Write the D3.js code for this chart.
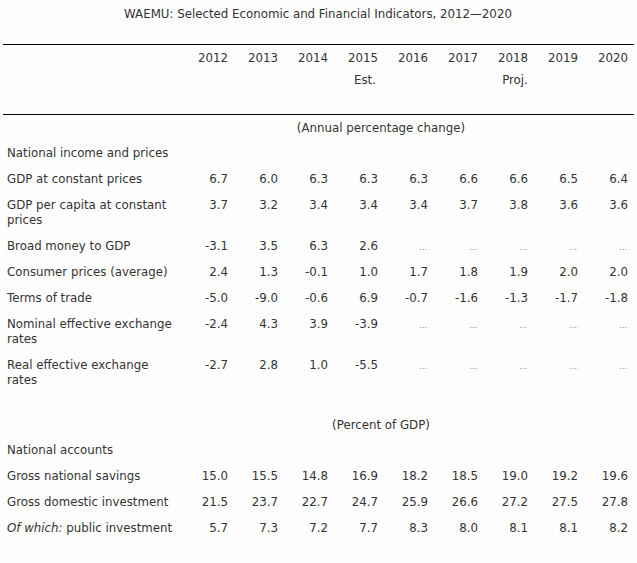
<!DOCTYPE html>
<html><head><meta charset="utf-8">
<script src="https://cdn.jsdelivr.net/npm/d3@7"></script>
<style>html,body{margin:0;padding:0;background:#fefefe;}</style>
</head><body>
<script>
const title = "WAEMU: Selected Economic and Financial Indicators, 2012\u20142020";
const years = ["2012","2013","2014","2015","2016","2017","2018","2019","2020"];
const yearNotes = {"2015":"Est.","2018":"Proj."};
const section1Unit = "(Annual percentage change)";
const section1Title = "National income and prices";
const section1Labels = [
  ["GDP at constant prices"],
  ["GDP per capita at constant","prices"],
  ["Broad money to GDP"],
  ["Consumer prices (average)"],
  ["Terms of trade"],
  ["Nominal effective exchange","rates"],
  ["Real effective exchange","rates"]
];
const gdpConstant   = [6.7,6.0,6.3,6.3,6.3,6.6,6.6,6.5,6.4];
const gdpPerCapita  = [3.7,3.2,3.4,3.4,3.4,3.7,3.8,3.6,3.6];
const broadMoney    = [-3.1,3.5,6.3,2.6,null,null,null,null,null];
const consumerPrices= [2.4,1.3,-0.1,1.0,1.7,1.8,1.9,2.0,2.0];
const termsOfTrade  = [-5.0,-9.0,-0.6,6.9,-0.7,-1.6,-1.3,-1.7,-1.8];
const neer          = [-2.4,4.3,3.9,-3.9,null,null,null,null,null];
const reer          = [-2.7,2.8,1.0,-5.5,null,null,null,null,null];
const section2Unit = "(Percent of GDP)";
const section2Title = "National accounts";
const section2Labels = [
  ["Gross national savings"],
  ["Gross domestic investment"],
  ["public investment"]
];
const grossSavings   = [15.0,15.5,14.8,16.9,18.2,18.5,19.0,19.2,19.6];
const grossInvest    = [21.5,23.7,22.7,24.7,25.9,26.6,27.2,27.5,27.8];
const publicInvest   = [5.7,7.3,7.2,7.7,8.3,8.0,8.1,8.1,8.2];

const W = 637, H = 563;
const color = "#333";
const font = "'DejaVu Sans', Verdana, sans-serif";
const fs = 11.8;

const svg = d3.select("body").append("svg").attr("width",W).attr("height",H)
  .style("background","#fefefe")
  .attr("font-family",font).attr("font-size",fs).attr("fill",color);

const x = d3.scaleBand().domain(years).range([178,628]).padding(0);
const bw = x.bandwidth();
const colRight = d => x(d) + bw;

svg.append("text").attr("x",318).attr("y",18).attr("text-anchor","middle").text(title);

svg.append("line").attr("x1",3).attr("x2",634).attr("y1",44.5).attr("y2",44.5).attr("stroke","#000").attr("stroke-width",1.2);
svg.append("line").attr("x1",3).attr("x2",634).attr("y1",114.5).attr("y2",114.5).attr("stroke","#000").attr("stroke-width",1.2);

svg.selectAll("text.year").data(years).join("text").attr("class","year")
  .attr("x",d=>colRight(d)).attr("y",62).attr("text-anchor","end").text(d=>d);
svg.selectAll("text.note").data(years.filter(d=>yearNotes[d])).join("text").attr("class","note")
  .attr("x",d=>colRight(d)-13).attr("y",84).attr("text-anchor","middle").text(d=>yearNotes[d]);

const unitX = 381;
const labelX = 7;

function drawRows(rows, startY){
  let y = startY;
  rows.forEach(r=>{
    const g = svg.append("g");
    const t = g.append("text").attr("x",labelX).attr("y",y);
    if(r.italicPrefix){
      t.append("tspan").attr("font-style","italic").text(r.italicPrefix);
      t.append("tspan").text(" " + r.label[0]);
    } else {
      t.text(r.label[0]);
    }
    r.label.slice(1).forEach((l,i)=>{
      g.append("text").attr("x",labelX).attr("y",y+15*(i+1)).text(l);
    });
    const yy = y;
    g.selectAll("text.val").data(r.values.map((v,i)=>({v,year:years[i]}))).join("text")
      .attr("class","val")
      .attr("x",d=>colRight(d.year) + (d.v==null?-1:0))
      .attr("y",yy)
      .attr("text-anchor","end")
      .attr("font-size",d=>d.v==null?8:fs)
      .attr("fill",d=>d.v==null?"#888":color)
      .text(d=>d.v==null?"...":d.v.toFixed(1));
    y += 26 + 15*(r.label.length-1);
  });
}

svg.append("text").attr("x",unitX).attr("y",132).attr("text-anchor","middle").text(section1Unit);
svg.append("text").attr("x",labelX).attr("y",157).text(section1Title);
const s1Values = [gdpConstant,gdpPerCapita,broadMoney,consumerPrices,termsOfTrade,neer,reer];
drawRows(section1Labels.map((l,i)=>({label:l,values:s1Values[i]})), 183);

svg.append("text").attr("x",unitX).attr("y",429).attr("text-anchor","middle").text(section2Unit);
svg.append("text").attr("x",labelX).attr("y",454).text(section2Title);
const s2Values = [grossSavings,grossInvest,publicInvest];
drawRows(section2Labels.map((l,i)=>({label:l,values:s2Values[i],italicPrefix:i===2?"Of which:":null})), 480);
</script>
</body></html>
